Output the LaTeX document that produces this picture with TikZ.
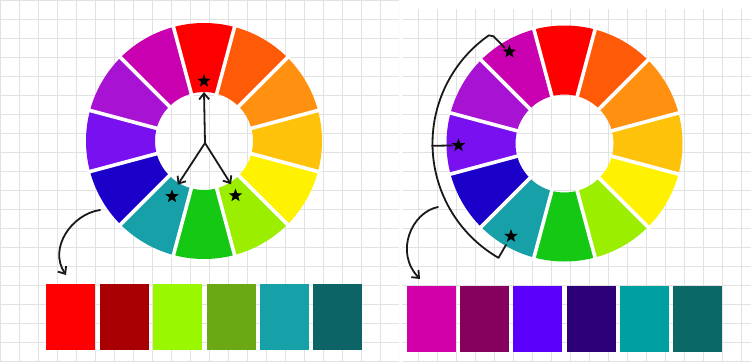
\documentclass[tikz,border=0pt]{standalone}
\usetikzlibrary{arrows.meta,shapes.geometric,calc}
\definecolor{cR}{HTML}{FF0000}
\definecolor{cRO}{HTML}{FF5A08}
\definecolor{cO}{HTML}{FF9010}
\definecolor{cYO}{HTML}{FFC20A}
\definecolor{cY}{HTML}{FFF200}
\definecolor{cYG}{HTML}{9CEE00}
\definecolor{cG}{HTML}{14C814}
\definecolor{cBG}{HTML}{18A0A8}
\definecolor{cB}{HTML}{1A00C8}
\definecolor{cBV}{HTML}{7810F0}
\definecolor{cV}{HTML}{A812D2}
\definecolor{cRV}{HTML}{C800B0}
\definecolor{sw1}{HTML}{FF0000}
\definecolor{sw2}{HTML}{A80002}
\definecolor{sw3}{HTML}{99F800}
\definecolor{sw4}{HTML}{6AA814}
\definecolor{sw5}{HTML}{16A0A8}
\definecolor{sw6}{HTML}{0C6466}
\definecolor{sw7}{HTML}{D200A8}
\definecolor{sw8}{HTML}{86005E}
\definecolor{sw9}{HTML}{5A00FA}
\definecolor{sw10}{HTML}{2E0078}
\definecolor{sw11}{HTML}{00A0A0}
\definecolor{sw12}{HTML}{0A6866}
\definecolor{gridc}{HTML}{E2E2E2}
\tikzset{
  gridline/.style={draw=gridc,line width=0.6pt},
  starnode/.style={star,star points=5,star point ratio=2.4,fill=black,inner sep=0pt,minimum size=14pt},
  swatch/.style={rectangle,inner sep=0pt,minimum width=49pt,minimum height=66pt},
  pen/.style={draw=black!90,line width=1.8pt,line cap=round,line join=round},
  arr/.style={pen,-{Straight Barb[length=6pt,width=10pt]}},
  gap/.style={draw=white,line width=3.6pt}
}
\begin{document}
\begin{tikzpicture}[x=1pt,y=1pt]
\useasboundingbox (0,0) rectangle (751,-361);
\fill[white] (0,0) rectangle (751,-361);
% grid panels
\begin{scope}
\clip (0,0) rectangle (399,-361);
\draw[gridline] (0,0) grid[step=19] (400,-361);
\end{scope}
\begin{scope}
\clip (402,-9) rectangle (751,-361);
\draw[gridline] (402,-9) grid[step=19] (751,-361);
\end{scope}
% wheel centres
\coordinate (c1) at (204,-141);
\coordinate (c2) at (564.5,-143.5);
% wheels
\foreach \cc in {c1,c2}{
  \foreach \a/\col in {90/cR,60/cRO,30/cO,0/cYO,-30/cY,-60/cYG,-90/cG,-120/cBG,-150/cB,180/cBV,150/cV,120/cRV}{
    \fill[\col] ($(\cc)+({\a-15}:118)$) arc[start angle={\a-15},end angle={\a+15},radius=118]
      -- ($(\cc)+({\a+15}:49)$) arc[start angle={\a+15},end angle={\a-15},radius=49] -- cycle;
  }
  \foreach \a in {75,45,15,-15,-45,-75,-105,-135,-165,165,135,105}{
    \draw[gap] ($(\cc)+(\a:46)$) -- ($(\cc)+(\a:121)$);
  }
}
% left wheel: stars and arrows
\node[starnode] (s1) at ($(c1)+(90:60)$) {};
\node[starnode] (s2) at ($(c1)+(240:64)$) {};
\node[starnode] (s3) at ($(c1)+(300:63)$) {};
\coordinate (v1) at ($(c1)+(1,-2)$);
\coordinate (a1) at ($(c1)+(90:49)$);
\coordinate (a2) at ($(c1)+(239:51)$);
\coordinate (a3) at ($(c1)+(302:51)$);
\draw[arr] (v1) -- (a1);
\draw[arr] (v1) -- (a2);
\draw[arr] (v1) -- (a3);
% right wheel: stars and bracket
\node[starnode] (t1) at ($(c2)+(121:107)$) {};
\node[starnode] (t2) at ($(c2)+(181:106)$) {};
\node[starnode] (t3) at ($(c2)+(240:107)$) {};
\coordinate (b1) at ($(c2)+(122:113)$);
\coordinate (b2) at ($(c2)+(123.5:128.5)$);
\coordinate (b3) at ($(c2)+(125:132)$);
\coordinate (b5) at ($(c2)+(240:117)$);
\coordinate (m1) at ($(c2)+(181:132.5)$);
\coordinate (m2) at ($(c2)+(181:112)$);
\draw[pen] (b1) -- (b2) -- (b3) arc[start angle=125,end angle=240,radius=132] -- (b5);
\draw[pen] (m1) -- (m2);
% curved arrows
\coordinate (p1) at (100,-210);
\coordinate (p2) at (66,-275);
\draw[arr] (p1) .. controls (72,-214) and (48,-248) .. (p2);
\coordinate (q1) at (438,-207);
\coordinate (q2) at (420,-279);
\draw[arr] (q1) .. controls (412,-212) and (394,-252) .. (q2);
% swatches
\foreach \i/\x in {1/70.6,2/124,3/177.4,4/231,5/284.4,6/337.7}{
  \node[swatch,fill=sw\i] (L\i) at (\x,-317.2) {};
}
\foreach \i/\x in {7/431.7,8/484.7,9/537.7,10/591.3,11/644.3,12/697.7}{
  \node[swatch,fill=sw\i] (R\i) at (\x,-318.8) {};
}
\end{tikzpicture}
\end{document}
